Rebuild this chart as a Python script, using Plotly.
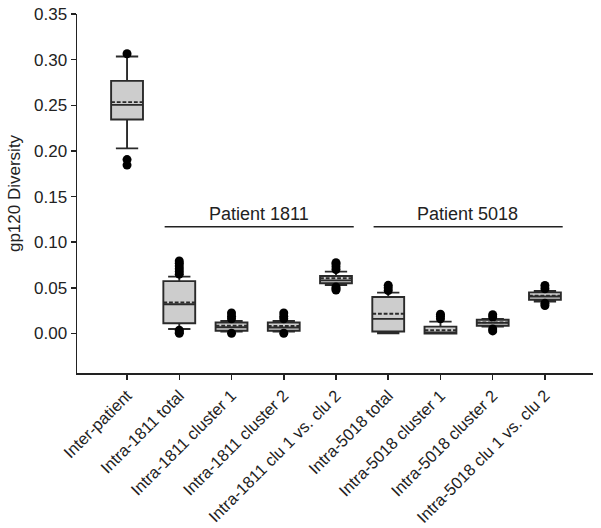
import plotly.graph_objects as go

categories = ["Inter-patient", "Intra-1811 total", "Intra-1811 cluster 1", "Intra-1811 cluster 2",
              "Intra-1811 clu 1 vs. clu 2", "Intra-5018 total", "Intra-5018 cluster 1",
              "Intra-5018 cluster 2", "Intra-5018 clu 1 vs. clu 2"]
q1 = [0.2345, 0.0112, 0.0030, 0.0030, 0.0550, 0.0022, 0.0000, 0.0085, 0.0370]
median = [0.2504, 0.0320, 0.0068, 0.0065, 0.0582, 0.0160, 0.0004, 0.0116, 0.0405]
mean = [0.2535, 0.0340, 0.0085, 0.0082, 0.0605, 0.0216, 0.0035, 0.0122, 0.0415]
q3 = [0.2767, 0.0574, 0.0120, 0.0120, 0.0630, 0.0400, 0.0075, 0.0150, 0.0450]
lower_fence = [0.2028, 0.0049, 0.0020, 0.0020, 0.0530, 0.0003, 0.0000, 0.0075, 0.0350]
upper_fence = [0.3035, 0.0623, 0.0137, 0.0137, 0.0678, 0.0448, 0.0130, 0.0160, 0.0465]
outliers = [
    [0.3065, 0.1905, 0.1845],
    [0.0650, 0.0680, 0.0710, 0.0740, 0.0770, 0.0795, 0.0035, 0.0015, 0.0003],
    [0.0160, 0.0190, 0.0225, 0.0003],
    [0.0160, 0.0190, 0.0225, 0.0003],
    [0.0700, 0.0730, 0.0760, 0.0775, 0.0510, 0.0490, 0.0475],
    [0.0470, 0.0500, 0.0527],
    [0.0160, 0.0190, 0.0212],
    [0.0180, 0.0205, 0.0050, 0.0028],
    [0.0490, 0.0525, 0.0330, 0.0307],
]
y_ticks = [0.00, 0.05, 0.10, 0.15, 0.20, 0.25, 0.30, 0.35]
group_labels = ["Patient 1811", "Patient 5018"]
group_members = [(1, 4), (5, 8)]
group_line_value = 0.1168
y_title = "gp120 Diversity"

FONT = "Liberation Sans, Arial, Helvetica, sans-serif"
INK = "#222222"

fig = go.Figure()
fig.add_trace(go.Box(
    x=categories, q1=q1, median=median, q3=q3, mean=mean,
    lowerfence=lower_fence, upperfence=upper_fence,
    boxmean=True, boxpoints=False, width=0.61, whiskerwidth=0.7,
    fillcolor="#cdcdcd", line=dict(color="#2a2a2a", width=1.9),
    showlegend=False, hoverinfo="skip",
))

ox, oy = [], []
for cat, vals in zip(categories, outliers):
    for v in vals:
        ox.append(cat)
        oy.append(v)
fig.add_trace(go.Scatter(
    x=ox, y=oy, mode="markers",
    marker=dict(color="black", size=9, line=dict(width=0)),
    showlegend=False, hoverinfo="skip",
))

for label, (a, b) in zip(group_labels, group_members):
    x0 = a - 0.28
    x1 = b + 0.34
    fig.add_shape(type="line", xref="x", yref="y", x0=x0, x1=x1,
                  y0=group_line_value, y1=group_line_value,
                  line=dict(color=INK, width=1.5))
    fig.add_annotation(x=(a + b) / 2 + 0.02, y=group_line_value, xref="x", yref="y",
                       text=label, showarrow=False, yanchor="bottom", yshift=1,
                       font=dict(family=FONT, size=18, color=INK))

fig.add_annotation(x=-0.121, y=0.5, xref="paper", yref="paper", text=y_title,
                   textangle=-90, showarrow=False, xanchor="center", yanchor="middle",
                   font=dict(family=FONT, size=17, color=INK))

fig.update_layout(
    width=601, height=528,
    margin=dict(l=77, r=8, t=14, b=155, autoexpand=False),
    paper_bgcolor="white", plot_bgcolor="white",
    font=dict(family=FONT, size=17, color=INK),
    xaxis=dict(type="category", range=[-0.958, 8.92], showline=True, linecolor=INK,
               linewidth=1.5, ticks="outside", ticklen=5, tickwidth=1.5, tickcolor=INK,
               tickangle=-45, tickfont=dict(family=FONT, size=16.5, color=INK),
               showgrid=False, zeroline=False, automargin=False),
    yaxis=dict(range=[-0.0433, 0.35], tickvals=y_ticks,
               ticktext=[f"{v:.2f}" for v in y_ticks], showline=True, linecolor=INK,
               linewidth=1.5, ticks="outside", ticklen=5, tickwidth=1.5, tickcolor=INK,
               tickfont=dict(family=FONT, size=17, color=INK),
               showgrid=False, zeroline=False, automargin=False),
)

fig.write_html("out.html", config={"displayModeBar": False, "staticPlot": True},
               post_script="document.body.style.margin='0';")
